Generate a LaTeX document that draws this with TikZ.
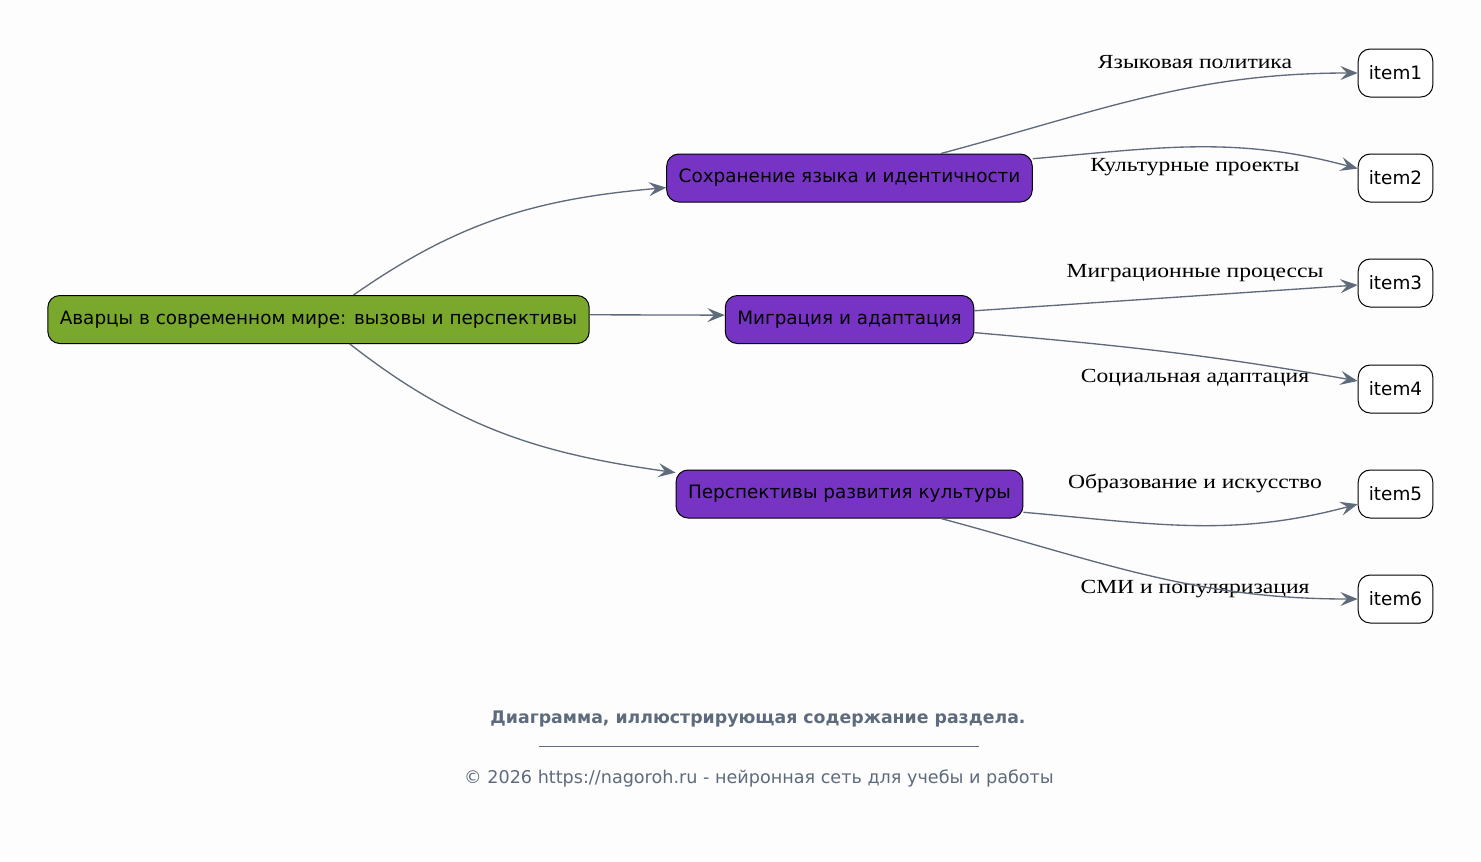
\documentclass[tikz,border=0pt]{standalone}
\usepackage{fontspec}
\setmainfont{Liberation Serif}[FakeStretch=1.18]
\newfontfamily\boxfont{DejaVu Sans}
\usetikzlibrary{arrows.meta}
\definecolor{edgegray}{RGB}{95,107,122}
\definecolor{rootgreen}{RGB}{122,168,44}
\definecolor{topicpurple}{RGB}{119,52,196}
\definecolor{bggray}{RGB}{253,253,253}
\definecolor{capgray}{RGB}{93,107,124}
\tikzset{
  box/.style={draw=black, line width=0.75pt, rounded corners=9pt,
    minimum height=36pt, inner xsep=9pt,
    font=\boxfont\fontsize{13.8}{16}\selectfont},
  rootbox/.style={box, fill=rootgreen},
  topicbox/.style={box, fill=topicpurple},
  itembox/.style={box, fill=white, inner xsep=8pt},
  link/.style={draw=edgegray, line width=1pt,
    -{Stealth[length=13pt,width=10.5pt,inset=5pt]}},
  lbl/.style={inner sep=0pt, font=\fontsize{15}{17}\selectfont},
}
\begin{document}
\begin{tikzpicture}[x=0.75pt, y=-0.75pt]
    \fill[bggray] (0,0) rectangle (1481,861);
    \useasboundingbox (0,0) rectangle (1481,861);
    \node[rootbox] (R) at (318.5,319.5) {Аварцы в современном мире: вызовы и перспективы};
    \node[topicbox] (S1) at (849.5,178) {Сохранение языка и идентичности};
    \node[topicbox] (S2) at (849.5,319.5) {Миграция и адаптация};
    \node[topicbox] (S3) at (849.5,494) {Перспективы развития культуры};
    \node[itembox] (I1) at (1395.5,73) {item1};
    \node[itembox] (I2) at (1395.5,178) {item2};
    \node[itembox] (I3) at (1395.5,283) {item3};
    \node[itembox] (I4) at (1395.5,389) {item4};
    \node[itembox] (I5) at (1395.5,494) {item5};
    \node[itembox] (I6) at (1395.5,599) {item6};
    \node[lbl] (L1) at (1195,62) {Языковая политика};
    \node[lbl] (L2) at (1195,167) {Культурные проекты};
    \node[lbl] (L3) at (1195,273) {Миграционные процессы};
    \node[lbl] (L4) at (1195,378) {Социальная адаптация};
    \node[lbl] (L5) at (1195,483) {Образование и искусство};
    \node[lbl] (L6) at (1195,589) {СМИ и популяризация};
    \path (R.35) edge [link, out=35, in=185] (S1.183);
    \path (R.1.6) edge [link] (S2.178.4);
    \path (R.-38.5) edge [link, out=-38, in=172] (S3.173);
    \path (S1.15.7) edge [link, out=15, in=180] (I1.west);
    \path (S1.6.3) edge [link, out=5, in=165] (I2.166.5);
    \path (S2.4.4) edge [link] (I3.183);
    \path (S2.-6.2) edge [link, out=-5, in=170] (I4.168);
    \path (S3.-6.6) edge [link, out=-5, in=195] (I5.195);
    \path (S3.-15.7) edge [link, out=-15, in=180] (I6.west);
    \node[text=capgray, font=\boxfont\bfseries\fontsize{13}{15}\selectfont] (T) at (758,719) {Диаграмма, иллюстрирующая содержание раздела.};
    \coordinate (T0) at (539,746);
    \coordinate (T1) at (979,746);
    \draw[capgray, line width=0.6pt] (T0) -- (T1);
    \node[text=capgray, font=\boxfont\fontsize{13.2}{15}\selectfont] (F) at (759,778) {© 2026 https://nagoroh.ru - нейронная сеть для учебы и работы};
  \end{tikzpicture}
\end{document}
